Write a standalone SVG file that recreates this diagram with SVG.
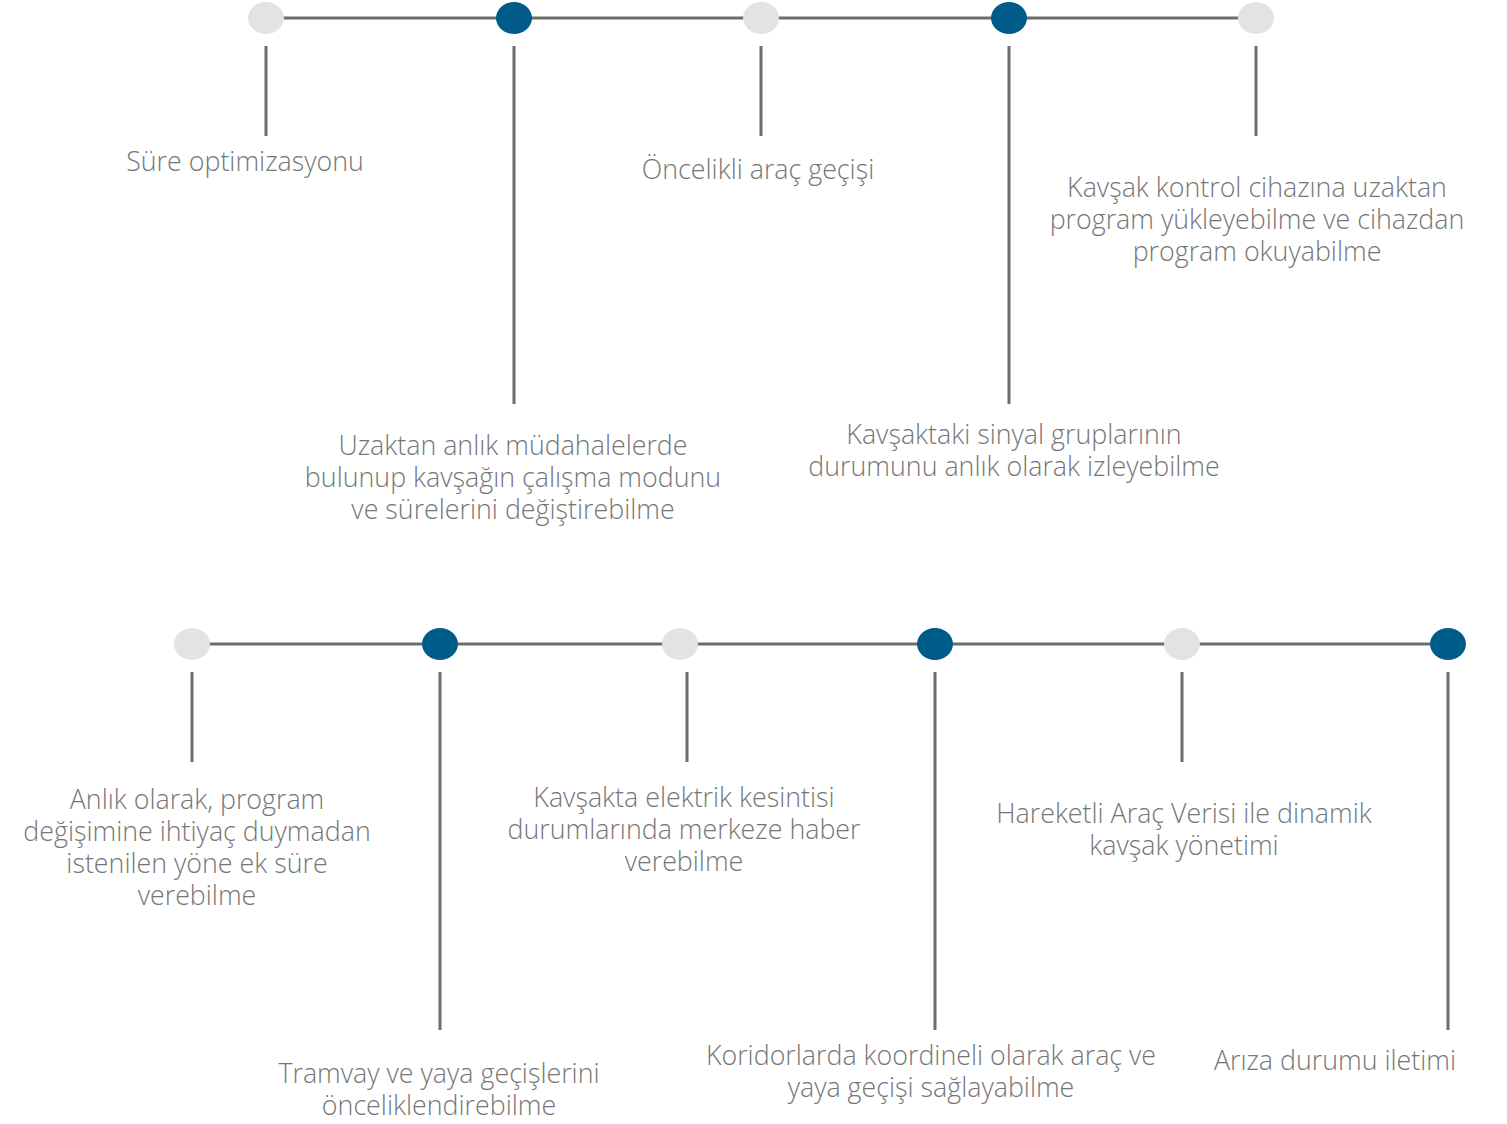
<svg xmlns="http://www.w3.org/2000/svg" width="1507" height="1124" viewBox="0 0 1507 1124">
<style>
.ln{stroke:#6d6d6d;stroke-width:3;fill:none}
.lt{fill:#e3e3e3}
.dk{fill:#005a8a}
text{font-family:"Open Sans","Noto Sans","Liberation Sans",sans-serif;font-weight:300;font-size:26.8px;fill:#767676;text-anchor:middle}
</style>
<rect width="1507" height="1124" fill="#ffffff"/>
<g id="connectors">
<line class="ln" x1="266" y1="18" x2="1256" y2="18"/>
<line class="ln" x1="266" y1="46" x2="266" y2="136"/>
<line class="ln" x1="514" y1="46" x2="514" y2="404"/>
<line class="ln" x1="761" y1="46" x2="761" y2="136"/>
<line class="ln" x1="1009" y1="46" x2="1009" y2="404"/>
<line class="ln" x1="1256" y1="46" x2="1256" y2="136"/>
<line class="ln" x1="192" y1="644" x2="1448" y2="644"/>
<line class="ln" x1="192" y1="672" x2="192" y2="762"/>
<line class="ln" x1="440" y1="672" x2="440" y2="1030"/>
<line class="ln" x1="687" y1="672" x2="687" y2="762"/>
<line class="ln" x1="935" y1="672" x2="935" y2="1030"/>
<line class="ln" x1="1182" y1="672" x2="1182" y2="762"/>
<line class="ln" x1="1448" y1="672" x2="1448" y2="1030"/>
</g>
<g id="n1"><ellipse class="lt" cx="266" cy="18" rx="18" ry="16"/><text x="245" y="171">Süre optimizasyonu</text></g>
<g id="n2"><ellipse class="dk" cx="514" cy="18" rx="18" ry="16"/><text x="513" y="455">Uzaktan anlık müdahalelerde</text><text x="513" y="487">bulunup kavşağın çalışma modunu</text><text x="513" y="519">ve sürelerini değiştirebilme</text></g>
<g id="n3"><ellipse class="lt" cx="761" cy="18" rx="18" ry="16"/><text x="758" y="179">Öncelikli araç geçişi</text></g>
<g id="n4"><ellipse class="dk" cx="1009" cy="18" rx="18" ry="16"/><text x="1014" y="444">Kavşaktaki sinyal gruplarının</text><text x="1014" y="476">durumunu anlık olarak izleyebilme</text></g>
<g id="n5"><ellipse class="lt" cx="1256" cy="18" rx="18" ry="16"/><text x="1257" y="197">Kavşak kontrol cihazına uzaktan</text><text x="1257" y="229">program yükleyebilme ve cihazdan</text><text x="1257" y="261">program okuyabilme</text></g>
<g id="n6"><ellipse class="lt" cx="192" cy="644" rx="18" ry="16"/><text x="197" y="809">Anlık olarak, program</text><text x="197" y="841">değişimine ihtiyaç duymadan</text><text x="197" y="873">istenilen yöne ek süre</text><text x="197" y="905">verebilme</text></g>
<g id="n7"><ellipse class="dk" cx="440" cy="644" rx="18" ry="16"/><text x="439" y="1083">Tramvay ve yaya geçişlerini</text><text x="439" y="1115">önceliklendirebilme</text></g>
<g id="n8"><ellipse class="lt" cx="680" cy="644" rx="18" ry="16"/><text x="684" y="807">Kavşakta elektrik kesintisi</text><text x="684" y="839">durumlarında merkeze haber</text><text x="684" y="871">verebilme</text></g>
<g id="n9"><ellipse class="dk" cx="935" cy="644" rx="18" ry="16"/><text x="931" y="1065">Koridorlarda koordineli olarak araç ve</text><text x="931" y="1097">yaya geçişi sağlayabilme</text></g>
<g id="n10"><ellipse class="lt" cx="1182" cy="644" rx="18" ry="16"/><text x="1184" y="823">Hareketli Araç Verisi ile dinamik</text><text x="1184" y="855">kavşak yönetimi</text></g>
<g id="n11"><ellipse class="dk" cx="1448" cy="644" rx="18" ry="16"/><text x="1335" y="1070">Arıza durumu iletimi</text></g>
</svg>
